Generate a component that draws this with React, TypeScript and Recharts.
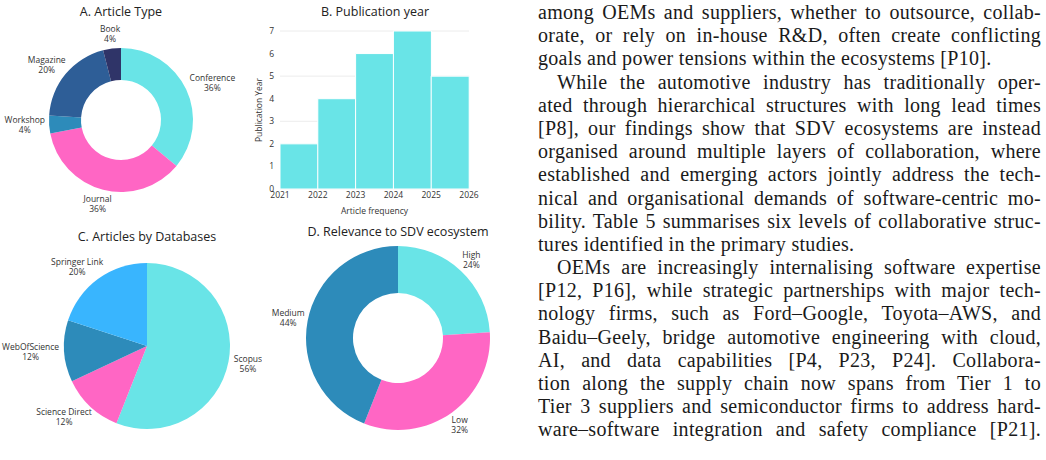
import { PieChart, Pie, Cell, BarChart, Bar, XAxis, YAxis, CartesianGrid } from "recharts";

// A. article type shares (%)
const articleTypes = ["Conference", "Journal", "Workshop", "Magazine", "Book"];
const articleTypeShares = [36, 36, 4, 20, 4];

// B. articles per publication year (histogram bins, one year wide)
const pubYears = [2021, 2022, 2023, 2024, 2025];
const pubCounts = [2, 4, 6, 7, 5];
const yearEdges = [2021, 2022, 2023, 2024, 2025, 2026];
const countTicks = [0, 1, 2, 3, 4, 5, 6, 7];

// C. source databases (%)
const databases = ["Scopus", "Science Direct", "WebOfScience", "Springer Link"];
const databaseShares = [56, 12, 12, 20];

// D. relevance levels (%)
const relevanceLevels = ["High", "Low", "Medium"];
const relevanceShares = [24, 32, 44];

const bodyLines = [
  "among OEMs and suppliers, whether to outsource, collab-",
  "orate, or rely on in-house R&D, often create conflicting",
  "goals and power tensions within the ecosystems [P10].",
  "While the automotive industry has traditionally oper-",
  "ated through hierarchical structures with long lead times",
  "[P8], our findings show that SDV ecosystems are instead",
  "organised around multiple layers of collaboration, where",
  "established and emerging actors jointly address the tech-",
  "nical and organisational demands of software-centric mo-",
  "bility. Table 5 summarises six levels of collaborative struc-",
  "tures identified in the primary studies.",
  "OEMs are increasingly internalising software expertise",
  "[P12, P16], while strategic partnerships with major tech-",
  "nology firms, such as Ford–Google, Toyota–AWS, and",
  "Baidu–Geely, bridge automotive engineering with cloud,",
  "AI, and data capabilities [P4, P23, P24].  Collabora-",
  "tion along the supply chain now spans from Tier 1 to",
  "Tier 3 suppliers and semiconductor firms to address hard-",
  "ware–software integration and safety compliance [P21].",
];
const paragraphStarts = [3, 11];
const paragraphEnds = [2, 10];

const CYAN = "#69e4e7";
const PINK = "#ff66c4";
const TEAL_BLUE = "#2d8bba";
const STEEL = "#2e5e97";
const NAVY = "#2f3468";
const SKY = "#39b5fe";
const INK = "#333333";
const SANS = "'Open Sans', sans-serif";

const typeColors = [CYAN, PINK, TEAL_BLUE, STEEL, NAVY];
const databaseColors = [CYAN, PINK, TEAL_BLUE, SKY];
const relevanceColors = [CYAN, PINK, TEAL_BLUE];

const toSlices = (names: string[], values: number[]) =>
  names.map((name, i) => ({ name, value: values[i] }));

const RADIAN = Math.PI / 180;

// two-line "Name / NN%" label pushed out along the slice bisector
function sliceLabel(props: any) {
  const { cx, cy, midAngle, outerRadius, name, value } = props;
  const dx = Math.cos(-midAngle * RADIAN);
  const dy = Math.sin(-midAngle * RADIAN);
  const w = Math.max(String(name).length, String(value).length + 1) * 4.6;
  const x = cx + dx * (outerRadius + 6) + (dx * w) / 2;
  const y = cy + dy * (outerRadius + 6) + dy * 9;
  return (
    <text x={x} y={y} textAnchor="middle" fill={INK} fontSize={8.5} fontFamily={SANS}>
      <tspan x={x} y={y - 2}>{name}</tspan>
      <tspan x={x} y={y + 8}>{value}%</tspan>
    </text>
  );
}

function Title({ text, cx, top }: { text: string; cx: number; top: number }) {
  return (
    <div
      style={{
        position: "absolute",
        left: cx - 120,
        top,
        width: 240,
        textAlign: "center",
        fontFamily: SANS,
        fontSize: 12.5,
        color: "#222",
        lineHeight: "16px",
        whiteSpace: "nowrap",
      }}
    >
      {text}
    </div>
  );
}

const box = (left: number, top: number): React.CSSProperties => ({ position: "absolute", left, top });

export default function App() {
  // each bar sits in the middle of its one-year bin
  const yearData = pubYears.map((year, i) => ({ mid: year + 0.5, count: pubCounts[i] }));

  return (
    <div style={{ position: "absolute", left: 0, top: 0, width: 1046, height: 460, background: "#fff", overflow: "hidden" }}>
      <Title text="A. Article Type" cx={121} top={4} />
      <div style={box(0, 0)}>
        <PieChart width={250} height={220} margin={{ top: 0, right: 0, bottom: 0, left: 0 }}>
          <Pie
            data={toSlices(articleTypes, articleTypeShares)}
            dataKey="value"
            nameKey="name"
            cx={121}
            cy={120}
            innerRadius={40}
            outerRadius={72}
            startAngle={90}
            endAngle={-270}
            stroke="none"
            label={sliceLabel}
            labelLine={false}
            isAnimationActive={false}
          >
            {articleTypes.map((t, i) => (
              <Cell key={t} fill={typeColors[i]} />
            ))}
          </Pie>
        </PieChart>
      </div>

      <Title text="B. Publication year" cx={375} top={4} />
      <div style={box(250, 0)}>
        <BarChart
          width={240}
          height={220}
          data={yearData}
          barCategoryGap={0}
          margin={{ top: 31, right: 21, bottom: 0, left: 0 }}
        >
          <CartesianGrid vertical={false} stroke="#ececec" />
          <XAxis
            dataKey="mid"
            type="number"
            domain={[yearEdges[0], yearEdges[yearEdges.length - 1]]}
            ticks={yearEdges}
            interval={0}
            height={31}
            axisLine={false}
            tickLine={false}
            tickSize={0}
            tickMargin={3}
            tick={{ fontSize: 8.5, fill: INK, fontFamily: SANS }}
            label={{ value: "Article frequency", position: "insideBottom", offset: 6, fontSize: 8.5, fill: INK, fontFamily: SANS }}
          />
          <YAxis
            width={30}
            domain={[0, 7]}
            ticks={countTicks}
            axisLine={false}
            tickLine={false}
            tickSize={0}
            tickMargin={6}
            tick={{ fontSize: 8.5, fill: INK, fontFamily: SANS }}
            label={{
              value: "Publication Year",
              angle: -90,
              position: "insideLeft",
              offset: 9,
              fontSize: 8.5,
              fill: INK,
              fontFamily: SANS,
              style: { textAnchor: "middle" },
            }}
          />
          <Bar dataKey="count" fill={CYAN} stroke="#fff" strokeWidth={1} isAnimationActive={false} />
        </BarChart>
      </div>

      <Title text="C. Articles by Databases" cx={147} top={229} />
      <div style={box(0, 220)}>
        <PieChart width={262} height={240} margin={{ top: 0, right: 0, bottom: 0, left: 0 }}>
          <Pie
            data={toSlices(databases, databaseShares)}
            dataKey="value"
            nameKey="name"
            cx={147}
            cy={126}
            outerRadius={83}
            startAngle={90}
            endAngle={-270}
            stroke="none"
            label={sliceLabel}
            labelLine={false}
            isAnimationActive={false}
          >
            {databases.map((d, i) => (
              <Cell key={d} fill={databaseColors[i]} />
            ))}
          </Pie>
        </PieChart>
      </div>

      <Title text="D. Relevance to SDV ecosystem" cx={398} top={224} />
      <div style={box(262, 220)}>
        <PieChart width={258} height={240} margin={{ top: 0, right: 0, bottom: 0, left: 0 }}>
          <Pie
            data={toSlices(relevanceLevels, relevanceShares)}
            dataKey="value"
            nameKey="name"
            cx={136}
            cy={118}
            innerRadius={45}
            outerRadius={92}
            startAngle={90}
            endAngle={-270}
            stroke="none"
            label={sliceLabel}
            labelLine={false}
            isAnimationActive={false}
          >
            {relevanceLevels.map((r, i) => (
              <Cell key={r} fill={relevanceColors[i]} />
            ))}
          </Pie>
        </PieChart>
      </div>

      <div
        style={{
          position: "absolute",
          left: 538,
          top: 1,
          width: 503,
          fontFamily: "'Liberation Serif', serif",
          fontSize: 20,
          letterSpacing: 0.3,
          color: "#1a1a1a",
        }}
      >
        {bodyLines.map((line, i) => {
          const last = paragraphEnds.includes(i);
          return (
            <div
              key={i}
              style={{
                height: 23.2,
                lineHeight: "23.2px",
                whiteSpace: "nowrap",
                paddingLeft: paragraphStarts.includes(i) ? 19 : 0,
                textAlign: last ? "left" : "justify",
                textAlignLast: last ? "left" : "justify",
              }}
            >
              {line}
            </div>
          );
        })}
      </div>
    </div>
  );
}
